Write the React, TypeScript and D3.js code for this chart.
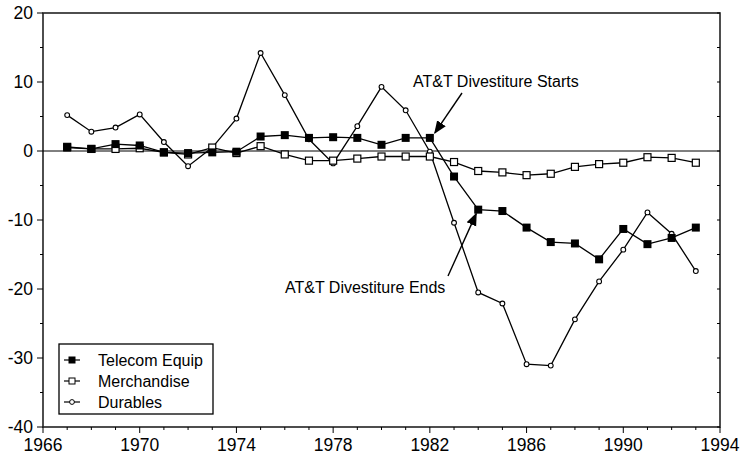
import React, { Component } from "react";
import * as d3 from "d3";

const years = d3.range(1967, 1994);
const telecom = [0.5, 0.3, 1.0, 0.8, -0.2, -0.3, -0.2, -0.1, 2.1, 2.3, 1.9, 2.0, 1.9, 0.9, 1.9, 1.9, -3.7, -8.5, -8.7, -11.1, -13.2, -13.4, -15.7, -11.3, -13.5, -12.6, -11.1];
const merchandise = [0.6, 0.3, 0.3, 0.4, -0.2, -0.5, 0.5, -0.3, 0.7, -0.5, -1.4, -1.4, -1.1, -0.8, -0.8, -0.8, -1.6, -2.9, -3.1, -3.5, -3.3, -2.3, -1.9, -1.7, -0.9, -1.0, -1.7];
const durables = [5.2, 2.8, 3.4, 5.3, 1.3, -2.2, 0.5, 4.7, 14.2, 8.1, 1.7, -1.8, 3.6, 9.3, 5.9, -0.1, -10.4, -20.5, -22.1, -30.9, -31.1, -24.4, -18.9, -14.3, -8.9, -12.0, -17.4];
const xTicks = [1966, 1970, 1974, 1978, 1982, 1986, 1990, 1994];
const yTicks = [-40, -30, -20, -10, 0, 10, 20];
const seriesNames = ["Telecom Equip", "Merchandise", "Durables"];

const width = 742;
const height = 461;
const margin = { top: 13, right: 22, bottom: 34, left: 43 };
const font = "'Liberation Sans', Arial, sans-serif";

export default class App extends Component {
  svgRef = React.createRef<SVGSVGElement>();

  componentDidMount() {
    const svg = d3.select(this.svgRef.current);
    svg.selectAll("*").remove();

    const x = d3.scaleLinear().domain([1966, 1994]).range([margin.left, width - margin.right]);
    const y = d3.scaleLinear().domain([-40, 20]).range([height - margin.bottom, margin.top]);

    const defs = svg.append("defs");
    defs.append("marker")
      .attr("id", "arrow")
      .attr("viewBox", "0 0 10 10")
      .attr("refX", 9).attr("refY", 5)
      .attr("markerWidth", 13).attr("markerHeight", 13)
      .attr("markerUnits", "userSpaceOnUse")
      .attr("orient", "auto")
      .append("path").attr("d", "M0,1 L10,5 L0,9 Z").attr("fill", "#000");

    // frame
    svg.append("rect")
      .attr("x", x(1966)).attr("y", y(20))
      .attr("width", x(1994) - x(1966)).attr("height", y(-40) - y(20))
      .attr("fill", "none").attr("stroke", "#222").attr("stroke-width", 1.6);

    // zero line
    svg.append("line")
      .attr("x1", x(1966)).attr("x2", x(1994))
      .attr("y1", y(0)).attr("y2", y(0))
      .attr("stroke", "#000").attr("stroke-width", 1);

    // x axis ticks
    const xAxis = svg.append("g").attr("transform", `translate(0, ${y(-40)})`);
    xAxis.selectAll("line").data(d3.range(1966, 1995)).join("line")
      .attr("x1", d => x(d)).attr("x2", d => x(d))
      .attr("y1", 0).attr("y2", d => (xTicks.includes(d) ? 6 : 3))
      .attr("stroke", "#000");
    xAxis.selectAll("text").data(xTicks).join("text")
      .attr("x", d => x(d)).attr("y", 24)
      .attr("text-anchor", "middle")
      .style("font-family", font).style("font-size", "17.5px")
      .text(d => d);

    // y axis ticks
    const yAxis = svg.append("g").attr("transform", `translate(${x(1966)}, 0)`);
    yAxis.selectAll("line").data(d3.range(-40, 21, 5)).join("line")
      .attr("y1", d => y(d)).attr("y2", d => y(d))
      .attr("x1", d => (d % 10 === 0 ? -6 : -3)).attr("x2", 0)
      .attr("stroke", "#000");
    yAxis.selectAll("text").data(yTicks).join("text")
      .attr("x", -10).attr("y", d => y(d) + 6)
      .attr("text-anchor", "end")
      .style("font-family", font).style("font-size", "17.5px")
      .text(d => d);

    // right side inner ticks
    svg.append("g").selectAll("line").data(d3.range(-40, 21, 5)).join("line")
      .attr("y1", d => y(d)).attr("y2", d => y(d))
      .attr("x1", x(1994) - 3).attr("x2", x(1994))
      .attr("stroke", "#000");

    const line = d3.line<number>()
      .x((d, i) => x(years[i]))
      .y(d => y(d));

    const drawSeries = (values: number[], kind: string) => {
      const g = svg.append("g");
      g.append("path").datum(values)
        .attr("d", line)
        .attr("fill", "none").attr("stroke", "#000").attr("stroke-width", 1.3);
      if (kind === "filled") {
        g.selectAll("rect").data(values).join("rect")
          .attr("x", (d, i) => x(years[i]) - 4).attr("y", d => y(d) - 4)
          .attr("width", 8).attr("height", 8)
          .attr("fill", "#000");
      } else if (kind === "open") {
        g.selectAll("rect").data(values).join("rect")
          .attr("x", (d, i) => x(years[i]) - 3.5).attr("y", d => y(d) - 3.5)
          .attr("width", 7).attr("height", 7)
          .attr("fill", "#fff").attr("stroke", "#000").attr("stroke-width", 1.2);
      } else {
        g.selectAll("circle").data(values).join("circle")
          .attr("cx", (d, i) => x(years[i])).attr("cy", d => y(d))
          .attr("r", 2.4)
          .attr("fill", "#fff").attr("stroke", "#000").attr("stroke-width", 1.1);
      }
    };

    drawSeries(durables, "circle");
    drawSeries(merchandise, "open");
    drawSeries(telecom, "filled");

    // annotations
    svg.append("text")
      .attr("x", 413).attr("y", 87)
      .style("font-family", font).style("font-size", "16px")
      .text("AT&T Divestiture Starts");
    svg.append("line")
      .attr("x1", 462).attr("y1", 93)
      .attr("x2", x(1982) + 5).attr("y2", y(telecom[15]) - 5)
      .attr("stroke", "#000").attr("stroke-width", 1.4)
      .attr("marker-end", "url(#arrow)");

    svg.append("text")
      .attr("x", 285).attr("y", 293)
      .style("font-family", font).style("font-size", "16px")
      .text("AT&T Divestiture Ends");
    svg.append("line")
      .attr("x1", 448).attr("y1", 276)
      .attr("x2", x(1984) - 2).attr("y2", y(telecom[17]) + 4)
      .attr("stroke", "#000").attr("stroke-width", 1.4)
      .attr("marker-end", "url(#arrow)");

    // legend
    const legend = svg.append("g").attr("transform", "translate(59, 344)");
    legend.append("rect")
      .attr("width", 154).attr("height", 70)
      .attr("fill", "#fff").attr("stroke", "#000").attr("stroke-width", 1.3);
    const kinds = ["filled", "open", "circle"];
    seriesNames.forEach((name, i) => {
      const ly = 16 + i * 21;
      legend.append("line")
        .attr("x1", 5).attr("x2", 21).attr("y1", ly).attr("y2", ly)
        .attr("stroke", "#000").attr("stroke-width", 1.2);
      if (kinds[i] === "filled") {
        legend.append("rect").attr("x", 9.5).attr("y", ly - 3.5).attr("width", 7).attr("height", 7).attr("fill", "#000");
      } else if (kinds[i] === "open") {
        legend.append("rect").attr("x", 10).attr("y", ly - 3).attr("width", 6).attr("height", 6)
          .attr("fill", "#fff").attr("stroke", "#000");
      } else {
        legend.append("circle").attr("cx", 13).attr("cy", ly).attr("r", 2.4)
          .attr("fill", "#fff").attr("stroke", "#000");
      }
      legend.append("text")
        .attr("x", 39).attr("y", ly + 6)
        .style("font-family", font).style("font-size", "16px")
        .text(name);
    });
  }

  render() {
    return (
      <svg ref={this.svgRef} width={width} height={height}
        style={{ position: "absolute", left: 0, top: 0, background: "#fff" }} />
    );
  }
}
